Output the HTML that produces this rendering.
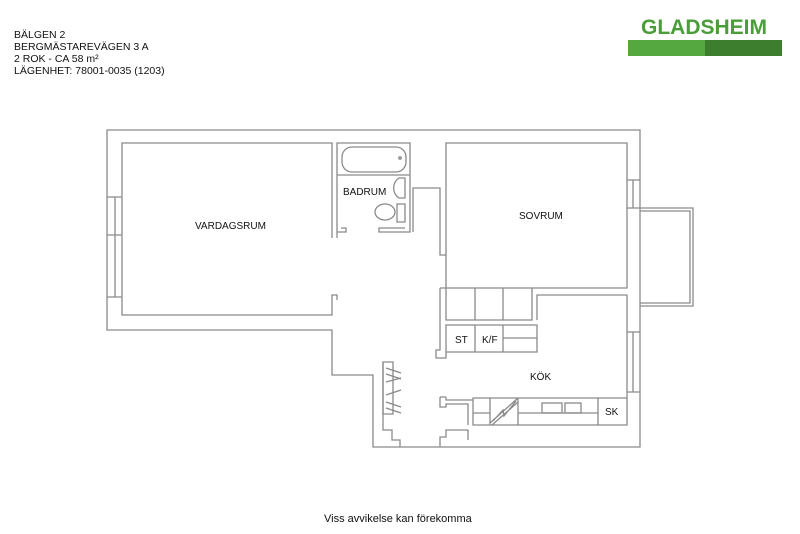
<!DOCTYPE html>
<html><head><meta charset="utf-8"><style>
body{margin:0;width:800px;height:534px;background:#fff;overflow:hidden;font-family:"Liberation Sans",sans-serif}
</style></head><body>
<svg width="800" height="534" viewBox="0 0 800 534" xmlns="http://www.w3.org/2000/svg" style="position:absolute;left:0;top:0">
<g font-family="Liberation Sans, sans-serif" font-size="10.5" fill="#111">
<text x="14" y="38">BÄLGEN 2</text>
<text x="14" y="50">BERGMÄSTAREVÄGEN 3 A</text>
<text x="14" y="62">2 ROK - CA 58 m²</text>
<text x="14" y="74">LÄGENHET:  78001-0035 (1203)</text>
</g>
<text x="641" y="34" font-family="Liberation Sans, sans-serif" font-size="21" font-weight="bold" fill="#4a9e3a">GLADSHEIM</text>
<rect x="628" y="40" width="77" height="16" fill="#55a83f"/>
<rect x="705" y="40" width="77" height="16" fill="#3d7d2e"/>
<g fill="none" stroke="#8a8a8a" stroke-width="1.3">
<path d="M107 130 H640 V447 H373 V375 H332 V330 H107 Z"/>
<path d="M332 238 V143 H122 V315 H332 V295 H337 V300"/>
<path d="M107 197 H122 M107 297 H122 M115 197 V297 M107 235 H122"/>
<path d="M337 238 V143 H410 V232 H379 V228 H405 M337 232 H346 V228 H341"/>
<path d="M337 175 H410"/>
<rect x="342" y="147" width="64" height="25" rx="10"/>
<circle cx="400" cy="158" r="1.2"/>
<path d="M405 178 H399 A12 12 0 0 0 399 198 H405 Z"/>
<path d="M405 204 H397 V222 H405 Z"/>
<ellipse cx="385" cy="212" rx="10" ry="8"/>
<path d="M413 232 V188 H440 V255 H446 V143 H627 V180 H640 M627 208 V288 H446 V232"/>
<path d="M627 180 V208 H640 M633 180 V208"/>
<path d="M640 208 H693 V306 H640 M640 211 H690 V303 H640"/>
<path d="M537 320 V295 H627 V332 H640 M627 332 V392 H640 M633 332 V392 M627 392 V425 H473 V398 H627"/>
<path d="M446 288 V320 H532 V288 M475 288 V320 M503 288 V320"/>
<path d="M440 288 H446 M440 288 V350 H436 V358 H446 V352"/>
<path d="M446 325 H537 V352 H446 Z M475 325 V352 M503 325 V352 M503 338 H537"/>
<path d="M473 413 H490 M490 398 V425 M518 398 V425 M518 413 H598 M598 398 V425"/>
<path d="M490 423 L518 398 M492 425 L518 402 M493 421 L503 410 L504 416 L516 401"/>
<rect x="542" y="403" width="20" height="10"/>
<rect x="565" y="403" width="16" height="10"/>
<path d="M383 362 H393 V414 H383 Z"/>
<path d="M383 362 V430 H392 V440 H400 V447"/>
<path d="M440 447 V437 H446 V430 H468 V440"/>
<path d="M440 397 V407 H446 V404 H468 V425 M446 397 H440 M446 397 V400 H473"/>
<path d="M386 368 L401 373 M386 374 L401 379 M386 382 L401 378 M386 395 L401 390 M386 402 L401 407 M386 408 L401 413"/>
</g>
<g font-family="Liberation Sans, sans-serif" font-size="10" fill="#111">
<text x="195" y="229">VARDAGSRUM</text>
<text x="343" y="195">BADRUM</text>
<text x="519" y="219">SOVRUM</text>
<text x="455" y="343">ST</text>
<text x="482" y="343">K/F</text>
<text x="530" y="380">KÖK</text>
<text x="605" y="415">SK</text>
<text x="324" y="522" font-size="11">Viss avvikelse kan förekomma</text>
</g>
</svg>
</body></html>
